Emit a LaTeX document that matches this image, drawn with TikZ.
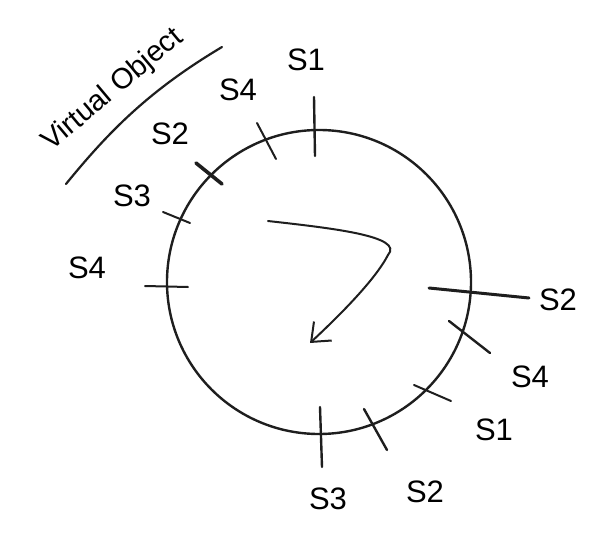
\documentclass[tikz,border=0pt]{standalone}
\usepackage{fontspec}
\setmainfont{Liberation Sans}
\usetikzlibrary{arrows.meta}

\begin{document}
\begin{tikzpicture}[x=1pt,y=-1pt,line cap=round,line join=round,
    srvlabel/.style={font=\fontsize{31}{31}\selectfont, inner sep=0pt},
    ringline/.style={line width=2.4pt},
    tickmark/.style={line width=2pt}]
    % Fix picture size
    \useasboundingbox (0,0) rectangle (592,533);

    \definecolor{inkColour}{HTML}{1E1E1E}

    % Draw ring
    \coordinate (O) at (319,282);
    \draw[ringline, draw=inkColour] (O) circle (152);

    % Tick marks on the ring
    \foreach \xa/\ya/\xb/\yb/\w in {314/97/315/156/2.4, 257/123/276/159/2, 196/163/222/184/3.6,
        163/212/190/223/2, 145/286/188/287/2, 429/288/529/298/3, 449/321/490/353/2.4,
        414/385/451/401/2, 364/409/387/450/2.4, 320/407/322/467/2.4}
        \draw[tickmark, draw=inkColour, line width=\w pt] (\xa,\ya) -- (\xb,\yb);

    % Server labels
    \node[srvlabel] (s1a) at (306,60) {S1};
    \node[srvlabel] (s4a) at (238,90) {S4};
    \node[srvlabel] (s2a) at (170,134) {S2};
    \node[srvlabel] (s3a) at (132,196) {S3};
    \node[srvlabel] (s4b) at (87,268) {S4};
    \node[srvlabel] (s2b) at (558,300) {S2};
    \node[srvlabel] (s4c) at (530,377) {S4};
    \node[srvlabel] (s1b) at (494,430) {S1};
    \node[srvlabel] (s2c) at (425,492) {S2};
    \node[srvlabel] (s3b) at (328,499) {S3};

    % Title and underline
    \node[font=\fontsize{29}{29}\selectfont, rotate=40, inner sep=0pt] (title) at (113,90) {Virtual Object};
    \coordinate (lineA) at (66,184);
    \coordinate (lineB) at (222,47);
    \draw[line width=2.2pt, draw=inkColour] (lineA) .. controls (110,130) and (150,90) .. (lineB);

    % Direction arrow
    \coordinate (arrS) at (268,221);
    \coordinate (arrM) at (388,255);
    \coordinate (arrE) at (310,343);
    \draw[line width=2pt, draw=inkColour] (arrS) .. controls (330,228) and (405,236) .. (arrM);
    \draw[line width=2pt, draw=inkColour, -{Straight Barb[length=16pt,width=26pt]}] (arrM) .. controls (375,280) and (340,315) .. (arrE);

\end{tikzpicture}
\end{document}
